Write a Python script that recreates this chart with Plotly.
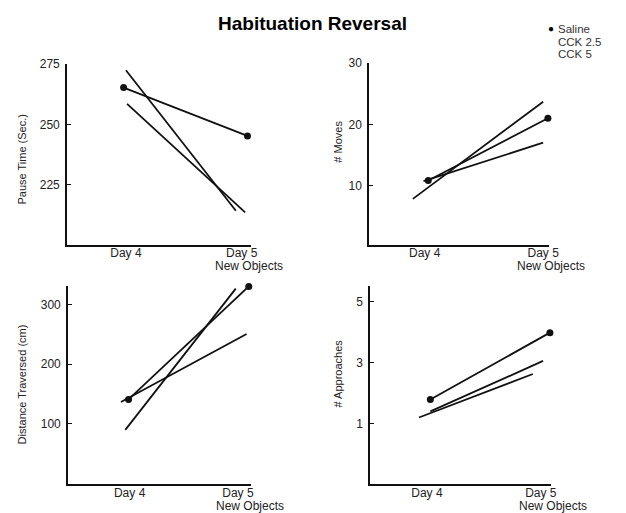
import plotly.graph_objects as go

# ---------------- data ----------------
groups = ["Saline", "CCK 2.5", "CCK 5"]
day_ticks = [4, 5]
day_labels = ["Day 4", "Day 5"]

# Pause Time (Sec.)
pause_saline_x = [3.98, 5.05]
pause_saline_y = [265.3, 245.2]
pause_cck25_x = [4.01, 5.03]
pause_cck25_y = [258.5, 213.4]
pause_cck5_x = [4.00, 4.95]
pause_cck5_y = [272.5, 214.1]
pause_ticks = [225, 250, 275]

# # Moves
moves_saline_x = [4.03, 5.04]
moves_saline_y = [10.8, 21.0]
moves_cck25_x = [3.99, 5.00]
moves_cck25_y = [10.7, 17.0]
moves_cck5_x = [3.90, 5.00]
moves_cck5_y = [7.8, 23.7]
moves_ticks = [10, 20, 30]

# Distance Traversed (cm)
dist_saline_x = [3.99, 5.10]
dist_saline_y = [141, 330.6]
dist_cck25_x = [3.92, 5.08]
dist_cck25_y = [136.7, 250.7]
dist_cck5_x = [3.96, 4.98]
dist_cck5_y = [90, 326.8]
dist_ticks = [100, 200, 300]

# # Approaches
appr_saline_x = [4.03, 5.08]
appr_saline_y = [1.79, 3.99]
appr_cck25_x = [4.03, 5.02]
appr_cck25_y = [1.40, 3.06]
appr_cck5_x = [3.93, 4.93]
appr_cck5_y = [1.20, 2.63]
appr_ticks = [1, 3, 5]

W, H = 626, 513


def px_x(p):
    return p / W


def px_y(p):
    return 1 - p / H


panels = [
    dict(title="Pause Time (Sec.)", ticks=pause_ticks,
         series=[(pause_saline_x, pause_saline_y), (pause_cck25_x, pause_cck25_y), (pause_cck5_x, pause_cck5_y)],
         xdom=[px_x(68), px_x(255)], ydom=[px_y(241), px_y(58)],
         xrange=[3.49, 5.08], yrange=[200, 275], title_xy=(22, 155), no_x=253),
    dict(title="# Moves", ticks=moves_ticks,
         series=[(moves_saline_x, moves_saline_y), (moves_cck25_x, moves_cck25_y), (moves_cck5_x, moves_cck5_y)],
         xdom=[px_x(375), px_x(558)], ydom=[px_y(241), px_y(57)],
         xrange=[3.53, 5.05], yrange=[0.3, 30], title_xy=(344, 137), no_x=560),
    dict(title="Distance Traversed (cm)", ticks=dist_ticks,
         series=[(dist_saline_x, dist_saline_y), (dist_cck25_x, dist_cck25_y), (dist_cck5_x, dist_cck5_y)],
         xdom=[px_x(69), px_x(255)], ydom=[px_y(484), px_y(283)],
         xrange=[3.43, 5.12], yrange=[-1.5, 331], title_xy=(22, 383), no_x=254),
    dict(title="# Approaches", ticks=appr_ticks,
         series=[(appr_saline_x, appr_saline_y), (appr_cck25_x, appr_cck25_y), (appr_cck5_x, appr_cck5_y)],
         xdom=[px_x(376), px_x(560)], ydom=[px_y(484), px_y(283)],
         xrange=[3.50, 5.09], yrange=[-1.0, 5.52], title_xy=(343, 372), no_x=562),
]

fig = go.Figure()
annotations = []
font_fam = "Liberation Sans, Arial, sans-serif"

for i, p in enumerate(panels):
    n = "" if i == 0 else str(i + 1)
    xa, ya = "x" + n, "y" + n
    for j, (sx, sy) in enumerate(p["series"]):
        is_saline = (j == 0)
        fig.add_trace(go.Scatter(
            x=sx, y=sy, xaxis=xa, yaxis=ya,
            mode="lines+markers" if is_saline else "lines",
            line=dict(color="#111111", width=1.8),
            marker=dict(size=7, color="#111111"),
            cliponaxis=False, showlegend=False, name=groups[j]))
    fig.layout["xaxis" + n] = dict(
        domain=p["xdom"], range=p["xrange"], anchor=ya,
        showline=True, linecolor="#111111", linewidth=2,
        showgrid=False, zeroline=False, ticks="",
        tickvals=day_ticks, ticktext=day_labels, ticklabelstandoff=-4,
        tickfont=dict(family=font_fam, size=12, color="#222222"))
    fig.layout["yaxis" + n] = dict(
        domain=p["ydom"], range=p["yrange"], anchor=xa,
        showline=True, linecolor="#111111", linewidth=1.5,
        showgrid=False, zeroline=False, ticks="inside", ticklen=4,
        tickcolor="#111111", tickvals=p["ticks"], ticklabelstandoff=3,
        tickfont=dict(family=font_fam, size=12, color="#222222"))
    tx, ty = p["title_xy"]
    annotations.append(dict(
        text=p["title"], xref="paper", yref="paper", x=px_x(tx), y=px_y(ty),
        textangle=-90, showarrow=False, xanchor="center", yanchor="middle",
        font=dict(family=font_fam, size=11, color="#222222")))
    annotations.append(dict(
        text="New Objects", xref="paper", yref="paper", x=px_x(p["no_x"]),
        y=p["ydom"][0] - 22 / H, showarrow=False, xanchor="center", yanchor="middle",
        font=dict(family=font_fam, size=12, color="#222222")))

# title
annotations.append(dict(
    text="<b>Habituation Reversal</b>", xref="paper", yref="paper",
    x=px_x(318), y=px_y(17), showarrow=False, xanchor="center", yanchor="middle",
    font=dict(family=font_fam, size=19, color="#000000")))

# legend
annotations.append(dict(
    text="●", xref="paper", yref="paper", x=px_x(560), y=px_y(22),
    showarrow=False, xanchor="center", yanchor="middle",
    font=dict(family=font_fam, size=10, color="#000000")))
for k, (g, yy) in enumerate(zip(groups, [22, 35, 48])):
    annotations.append(dict(
        text=g, xref="paper", yref="paper", x=px_x(565), y=px_y(yy),
        showarrow=False, xanchor="left", yanchor="middle",
        font=dict(family=font_fam, size=11.5, color="#333333")))

fig.update_layout(
    width=W, height=H, margin=dict(l=0, r=0, t=0, b=0),
    paper_bgcolor="white", plot_bgcolor="white",
    annotations=annotations, showlegend=False)

fig.write_html("out.html", config={"displayModeBar": False},
               post_script="document.body.style.margin='0';document.body.style.padding='0';")
